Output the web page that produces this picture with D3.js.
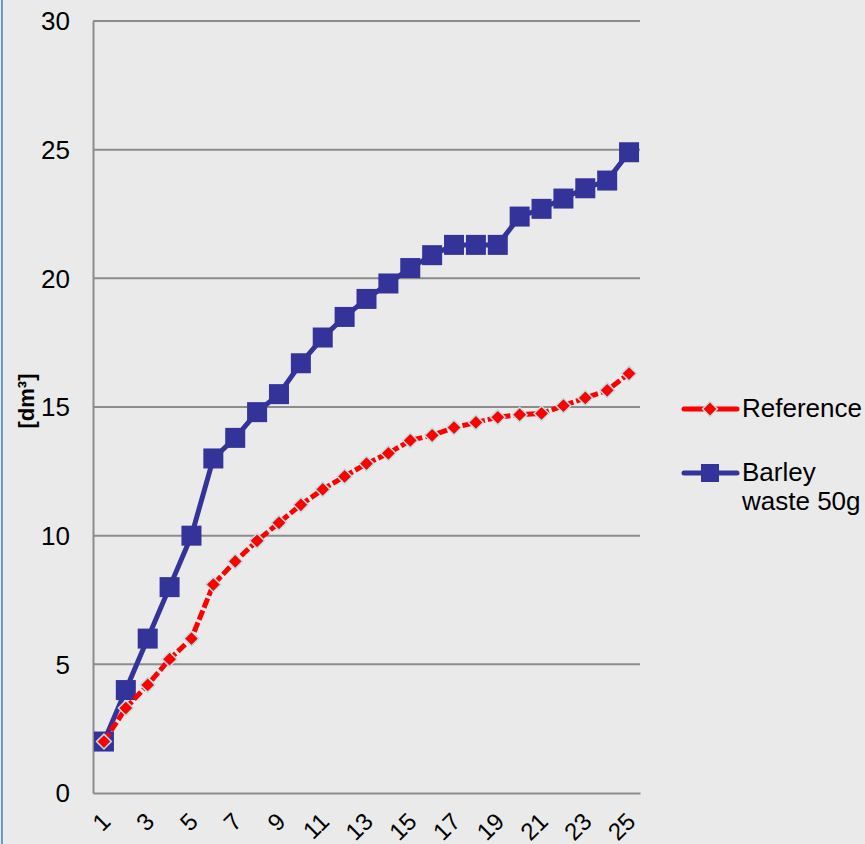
<!DOCTYPE html>
<html><head><meta charset="utf-8">
<script src="https://cdn.jsdelivr.net/npm/d3@7"></script>
<style>html,body{margin:0;padding:0;background:#eaeaea;}svg{display:block;}</style>
</head><body>
<script>
const categories = d3.range(1, 26).map(String);
const referenceValues = [2, 3.3, 4.2, 5.2, 6, 8.1, 9, 9.8, 10.5, 11.2, 11.8, 12.3, 12.8, 13.2, 13.7, 13.9, 14.2, 14.4, 14.6, 14.7, 14.75, 15.05, 15.35, 15.65, 16.3];
const barleyValues = [2, 4, 6, 8, 10, 13, 13.8, 14.8, 15.5, 16.7, 17.7, 18.5, 19.2, 19.8, 20.4, 20.9, 21.3, 21.3, 21.3, 22.4, 22.7, 23.1, 23.5, 23.8, 24.9];
const yTicks = [0, 5, 10, 15, 20, 25, 30];
const xTickLabels = categories.filter((d, i) => i % 2 === 0);
const seriesNames = ["Reference", "Barley waste 50g"];

const FONT = "'Liberation Sans', Arial, sans-serif";
const W = 865, H = 844;
const svg = d3.select("body").append("svg").attr("width", W).attr("height", H);
svg.append("rect").attr("width", W).attr("height", H).attr("fill", "#eaeaea");
svg.append("line").attr("x1", 2).attr("x2", 2).attr("y1", 0).attr("y2", H)
  .attr("stroke", "#6a98d0").attr("stroke-width", 2);

const pLeft = 93, pRight = 640, pTop = 21, pBottom = 793;
const x = d3.scaleBand().domain(categories).range([pLeft, pRight]);
const y = d3.scaleLinear().domain([0, 30]).range([pBottom, pTop]);
const cx = d => x(d) + x.bandwidth() / 2;

// gridlines
svg.append("g").selectAll("line").data(yTicks.filter(t => t > 0)).join("line")
  .attr("x1", pLeft).attr("x2", pRight).attr("y1", d => y(d)).attr("y2", d => y(d))
  .attr("stroke", "#8c8c8c").attr("stroke-width", 2);

// axes
const yAxis = svg.append("g").attr("transform", `translate(${pLeft},0)`)
  .call(d3.axisLeft(y).tickValues(yTicks).tickSize(0).tickPadding(23));
yAxis.select(".domain").attr("stroke", "#8c8c8c").attr("stroke-width", 2);
yAxis.selectAll("text").attr("font-family", FONT).attr("font-size", 26).attr("fill", "#000")
  .attr("dy", "0.34em");

const xAxis = svg.append("g").attr("transform", `translate(0,${pBottom})`)
  .call(d3.axisBottom(x).tickValues(xTickLabels).tickSize(0).tickPadding(0));
xAxis.select(".domain").attr("stroke", "#8c8c8c").attr("stroke-width", 2);
xAxis.selectAll("text")
  .attr("font-family", FONT).attr("font-size", 24).attr("fill", "#000")
  .attr("text-anchor", "end").attr("dy", "0.35em").attr("y", 0)
  .attr("transform", "translate(2,24) rotate(-45)");

// y title
svg.append("text").attr("transform", `translate(34,401) rotate(-90)`)
  .attr("text-anchor", "middle").attr("font-family", FONT)
  .attr("font-size", 22).attr("font-weight", "bold").text("[dm³]");

const line = d3.line().x((d, i) => cx(categories[i])).y(d => y(d));

// Barley series
svg.append("path").datum(barleyValues).attr("d", line).attr("fill", "none")
  .attr("stroke", "#333399").attr("stroke-width", 5).attr("stroke-linejoin", "round");
svg.append("g").selectAll("rect").data(barleyValues).join("rect")
  .attr("x", (d, i) => cx(categories[i]) - 10).attr("y", d => y(d) - 10)
  .attr("width", 20).attr("height", 20).attr("fill", "#333399");

// Reference series
svg.append("path").datum(referenceValues).attr("d", line).attr("fill", "none")
  .attr("stroke", "#ff0000").attr("stroke-width", 5).attr("stroke-dasharray", "10,3");
const diamond = d3.symbol().type(d3.symbolDiamond2).size(140);
svg.append("g").selectAll("path").data(referenceValues).join("path")
  .attr("d", diamond)
  .attr("transform", (d, i) => `translate(${cx(categories[i])},${y(d)})`)
  .attr("fill", "#ff0000").attr("stroke", "#b9e0e4").attr("stroke-width", 1.5);

// legend
const lg = svg.append("g").attr("font-family", FONT).attr("font-size", 26);
lg.append("line").attr("x1", 684).attr("x2", 737).attr("y1", 409).attr("y2", 409)
  .attr("stroke", "#ff0000").attr("stroke-width", 5).attr("stroke-linecap", "round");
lg.append("path").attr("d", diamond).attr("transform", "translate(710,409)")
  .attr("fill", "#ff0000").attr("stroke", "#b9e0e4").attr("stroke-width", 1.5);
lg.append("text").attr("x", 742).attr("y", 417).text(seriesNames[0]);
lg.append("line").attr("x1", 684).attr("x2", 737).attr("y1", 473).attr("y2", 473)
  .attr("stroke", "#333399").attr("stroke-width", 5).attr("stroke-linecap", "round");
lg.append("rect").attr("x", 701).attr("y", 464).attr("width", 18).attr("height", 18).attr("fill", "#333399");
const t2 = lg.append("text").attr("x", 742).attr("y", 481);
t2.append("tspan").attr("x", 742).text("Barley");
t2.append("tspan").attr("x", 742).attr("dy", 29).text("waste 50g");
</script>
</body></html>
